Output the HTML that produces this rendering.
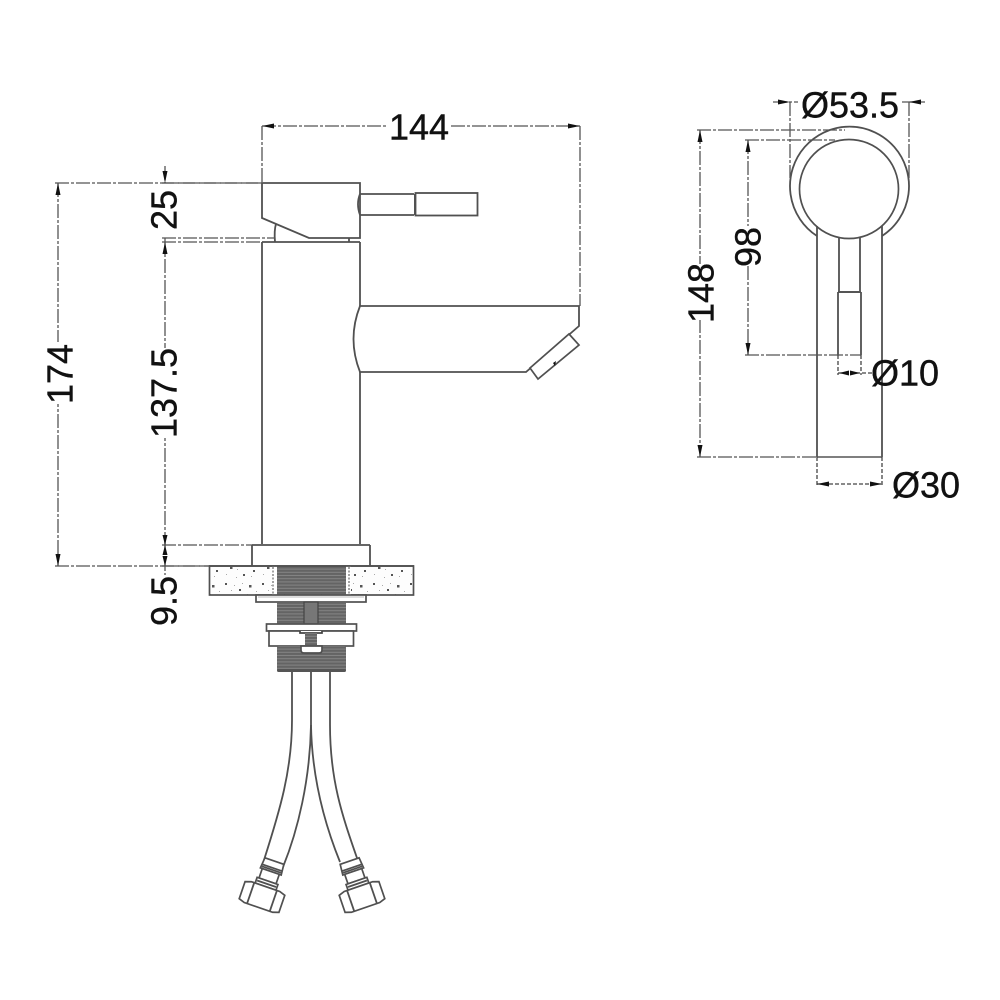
<!DOCTYPE html>
<html><head><meta charset="utf-8"><style>
html,body{margin:0;padding:0;background:#fff;width:1000px;height:1000px;overflow:hidden}
svg{display:block}
text{font-family:"Liberation Sans",sans-serif;font-size:36px;fill:#111;stroke:#111;stroke-width:0.4;text-anchor:middle;dominant-baseline:central}
.l{stroke:#505050;stroke-width:1.8;fill:none}
.w{stroke:#505050;stroke-width:1.7;fill:#fff}
.d{stroke:#555;stroke-width:1.3;fill:none;stroke-dasharray:14 2 3 2}
.s{stroke:#444;stroke-width:1.3;fill:none;stroke-dasharray:4 2}
.a{fill:#111}
</style></head><body>
<svg width="1000" height="1000" viewBox="0 0 1000 1000" xmlns="http://www.w3.org/2000/svg">
<defs>
<pattern id="th" width="6" height="3.2" patternUnits="userSpaceOnUse"><rect width="6" height="3.2" fill="#646464"/><rect y="2.2" width="6" height="1" fill="#858585"/></pattern>
<pattern id="sp" width="37" height="29" patternUnits="userSpaceOnUse">
<rect width="37" height="29" fill="#fdfdfd"/>
<g fill="#555"><rect x="3" y="3" width="2" height="2"/><rect x="27" y="5" width="2.500" height="2.500"/><rect x="17" y="9" width="2" height="2"/><rect x="8" y="16" width="2.500" height="2"/><rect x="31" y="19" width="2" height="2"/><rect x="21" y="23" width="2" height="2"/></g>
<g fill="#aaa"><rect x="12" y="5" width="1" height="1"/><rect x="34" y="11" width="1" height="1"/><rect x="25" y="14" width="1" height="1"/><rect x="4" y="23" width="1" height="1"/><rect x="14" y="26" width="1" height="1"/><rect x="20" y="3" width="1" height="1"/><rect x="9" y="10" width="1" height="1"/><rect x="29" y="25" width="1" height="1"/><rect x="15" y="18" width="1" height="1"/></g>
</pattern>
<g id="conn">
<path class="w" d="M-10,-38 L10,-38 L11,-27 L-11,-27 Z"/>
<path class="w" d="M-9,-27 L9,-27 L9,-17 L-9,-17 Z"/>
<path class="w" d="M-11,-17 L11,-17 L11,-11 L-11,-11 Z"/>
<line class="l" x1="-10" y1="-31" x2="10" y2="-31"/>
<line class="l" x1="-10" y1="-29" x2="10" y2="-29"/>
<line class="l" x1="-10" y1="-14" x2="10" y2="-14"/>
<path class="w" d="M-21,-9 L-15,-11 L15,-11 L21,-9 L21,9 L15,11 L-15,11 L-21,9 Z"/>
<line class="l" x1="-12" y1="-11" x2="-12" y2="11"/>
<line class="l" x1="12" y1="-11" x2="12" y2="11"/>
</g>
</defs>

<!-- main outline -->
<path class="l" d="M262,183H360V238H309L262,218Z"/>
<path class="l" d="M275,242Q274,230 276,224M349,238V242"/>
<line class="l" x1="262" y1="242" x2="360" y2="242"/>
<path class="l" d="M262,242V544M360,242V306M360,372V544"/>
<path class="l" d="M360,194Q356,204 360,215M360,194H414M360,215H414"/>
<rect x="414" y="194" width="2" height="21" fill="#555"/>
<rect class="l" x="415.500" y="193" width="62" height="22.500"/>
<path class="l" d="M360,306H579V326L526,372H360Q347,339 360,306Z"/>
<path class="w" d="M530,368L538,379L579,345L569,334Z"/>
<path class="a" d="M556,361l-1,5l-2,-3z"/>

<!-- flange -->
<line class="l" x1="252" y1="545" x2="370" y2="545"/>
<path class="l" d="M252,545V566M370,545V566"/>
<rect class="w" x="209.500" y="566" width="204" height="29" style="fill:url(#sp)"/>
<rect x="272" y="566.500" width="5" height="28" fill="#fff"/><rect x="346" y="566.500" width="5" height="28" fill="#fff"/>
<path d="M273,567V594M349,567V594" stroke="#666" stroke-width="1.200" stroke-dasharray="2 1.500" fill="none"/>
<rect x="277" y="566" width="69" height="28" fill="url(#th)"/>
<line class="l" x1="209" y1="566" x2="414" y2="566"/>
<rect class="w" x="256" y="595" width="110" height="7"/>
<line x1="258" y1="597" x2="364" y2="597" stroke="#bbb" stroke-width="1"/>
<rect x="277" y="602" width="69" height="22" fill="url(#th)"/>
<rect x="304" y="602" width="14" height="22" fill="#777" stroke="#444" stroke-width="1.200"/>
<rect class="w" x="266.500" y="624" width="90" height="7"/>
<rect class="w" x="269" y="631" width="84.500" height="15"/>
<path class="w" d="M300,631V633H322V631" style="fill:#fff;stroke:#444"/>
<rect x="305" y="633" width="12" height="12" fill="url(#th)"/>
<rect x="277" y="646" width="69" height="25" rx="2" fill="url(#th)"/>
<rect x="277" y="669" width="69" height="3" rx="1.500" fill="#555"/>
<path class="w" d="M301,646V650Q301,653 304,653H319Q322,653 322,650V646Z"/>

<!-- hoses -->
<path class="l" d="M292,672V720C292,770 280,810 264,860"/>
<path class="l" d="M311,672V725C310,780 298,830 283,867"/>
<path class="l" d="M330,672V725C330,780 342,815 357,858"/>
<path class="l" d="M311,725C312,780 325,825 340,862"/>
<use href="#conn" transform="translate(262,897) rotate(19)"/>
<use href="#conn" transform="translate(362,897) rotate(-19)"/>

<!-- left dims -->
<path class="d" d="M262,126H580M262,126V183M580,126V306"/>
<path class="d" d="M55,183H262M55,566H209M58,183V566"/>
<path class="d" d="M165,166V183M162,183H262"/>
<path class="d" d="M165,238V545M162,238H275M162,242H262"/>
<path class="d" d="M162,545H252M162,566H209M165,536V575"/>
<g class="a">
<path d="M262,126l12,-2.500v5zM580,126l-12,-2.500v5z"/>
<path d="M58,183l-2.500,12h5zM58,566l-2.500,-12h5z"/>
<path d="M165,183l-2.500,-12h5zM165,242l-2.500,12h5z"/>
<path d="M165,545l-2.500,-10h5zM165,545l-2.500,10h5zM165,566l-2.500,-10h5z"/>
</g>

<!-- right view -->
<path class="l" d="M817,236A59.500,59.500 0 1 1 882,236"/>
<circle class="w" cx="849" cy="189" r="49.500"/>
<path class="l" d="M817,226V457M882,226V457"/>
<path class="l" d="M839,238V292H860V238"/>
<rect x="838" y="291" width="23" height="2" fill="#555"/>
<path class="l" d="M838,292V355M861,292V355"/>

<path class="d" d="M697,130H845M700,130V457M697,457H817"/>
<line x1="817" y1="457" x2="882" y2="457" stroke="#555" stroke-width="1.400"/>
<path class="d" d="M745,140H835M748,140V355M745,355H861"/>
<path class="d" d="M773,102H925M790,102V178M909,102V178"/>
<path class="s" d="M817,457V487M882,457V487M817,484H882"/>
<path class="s" d="M838,355V375M861,355V375M838,373H872"/>
<g class="a">
<path d="M790,102l-12,-2.500v5zM909,102l12,-2.500v5z"/>
<path d="M700,130l-2.500,12h5zM700,457l-2.500,-12h5z"/>
<path d="M748,140l-2.500,12h5zM748,355l-2.500,-12h5z"/>
<path d="M817,484l12,-2.500v5zM882,484l-12,-2.500v5z"/>
<path d="M839,373l10,-2.500v5zM860,373l-10,-2.500v5z"/>
</g>

<!-- labels -->
<g fill="#fff">
<rect x="388" y="116" width="62" height="20"/>
<rect x="48" y="342" width="20" height="62"/>
<rect x="155" y="188" width="20" height="46"/>
<rect x="155" y="348" width="20" height="90"/>
<rect x="155" y="575" width="20" height="52"/>
<rect x="690" y="264" width="20" height="56"/>
<rect x="738" y="226" width="20" height="40"/>
<rect x="798" y="94" width="104" height="18"/>
</g>
<text x="419" y="127">144</text>
<text transform="translate(60,374) rotate(-90)">174</text>
<text transform="translate(164,210) rotate(-90)">25</text>
<text transform="translate(164,393) rotate(-90)">137.5</text>
<text transform="translate(164,601) rotate(-90)">9.5</text>
<text transform="translate(701,293) rotate(-90)">148</text>
<text transform="translate(748,247) rotate(-90)">98</text>
<text x="850" y="105">Ø53.5</text>
<text x="905" y="373">Ø10</text>
<text x="926" y="485">Ø30</text>
</svg>
</body></html>
